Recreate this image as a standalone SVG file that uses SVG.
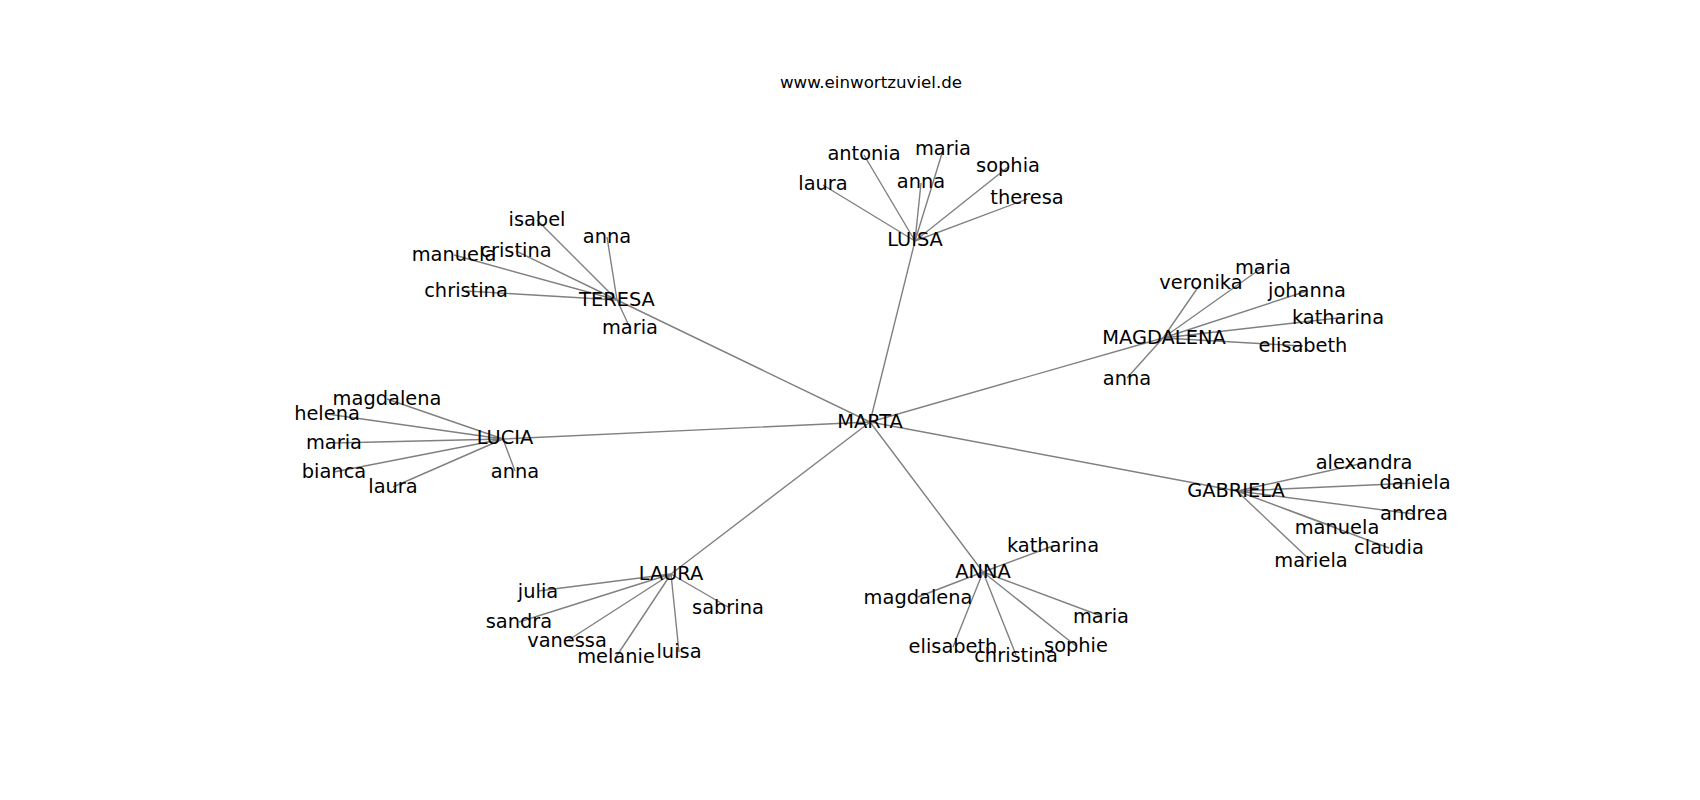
<svg xmlns="http://www.w3.org/2000/svg" width="1700" height="800" viewBox="0 0 1700 800">
<style>
.e{stroke:#808080;stroke-width:1.4;fill:none}
text{font-family:"DejaVu Sans","Liberation Sans",sans-serif;fill:#000;text-anchor:middle}
.n{font-size:19.4px}
.t{font-size:16.67px}
</style>
<rect width="1700" height="800" fill="#fff"/>
<text class="t" x="871" y="88">www.einwortzuviel.de</text>
<g id="connectors">
<path class="e" d="M870 422L915 241M870 422L617 300M870 422L1163 338M870 422L503 439M870 422L1237 491M870 422L671 574M870 422L983 572"/>
<path class="e" d="M915 241L823 185M915 241L864 155M915 241L943 150M915 241L921 183M915 241L1008 167M915 241L1027 199"/>
<path class="e" d="M617 300L537 220M617 300L607 237M617 300L516 251M617 300L454 255M617 300L466 291M617 300L630 328"/>
<path class="e" d="M1163 338L1201 283M1163 338L1263 267M1163 338L1307 291M1163 338L1338 318M1163 338L1303 346M1163 338L1127 378"/>
<path class="e" d="M503 439L387 399M503 439L327 414M503 439L334 443M503 439L334 472M503 439L393 487M503 439L515 471"/>
<path class="e" d="M1237 491L1364 463M1237 491L1415 483M1237 491L1414 514M1237 491L1337 528M1237 491L1389 548M1237 491L1311 561"/>
<path class="e" d="M671 574L538 591M671 574L519 622M671 574L567 641M671 574L616 657M671 574L679 652M671 574L728 607"/>
<path class="e" d="M983 572L1053 546M983 572L918 597M983 572L1101 616M983 572L953 647M983 572L1016 655M983 572L1076 646"/>
</g>
<g id="MARTA"><text class="n" x="870" y="428">MARTA</text></g>
<g id="LUISA"><text class="n" x="915" y="246">LUISA</text></g>
<g id="LUISA-laura"><text class="n" x="823" y="190">laura</text></g>
<g id="LUISA-antonia"><text class="n" x="864" y="160">antonia</text></g>
<g id="LUISA-maria"><text class="n" x="943" y="155">maria</text></g>
<g id="LUISA-anna"><text class="n" x="921" y="188">anna</text></g>
<g id="LUISA-sophia"><text class="n" x="1008" y="172">sophia</text></g>
<g id="LUISA-theresa"><text class="n" x="1027" y="204">theresa</text></g>
<g id="TERESA"><text class="n" x="617" y="306">TERESA</text></g>
<g id="TERESA-isabel"><text class="n" x="537" y="226">isabel</text></g>
<g id="TERESA-anna"><text class="n" x="607" y="243">anna</text></g>
<g id="TERESA-cristina"><text class="n" x="516" y="257">cristina</text></g>
<g id="TERESA-manuela"><text class="n" x="454" y="261">manuela</text></g>
<g id="TERESA-christina"><text class="n" x="466" y="297">christina</text></g>
<g id="TERESA-maria"><text class="n" x="630" y="334">maria</text></g>
<g id="MAGDALENA"><text class="n" x="1164" y="344">MAGDALENA</text></g>
<g id="MAGDALENA-veronika"><text class="n" x="1201" y="289">veronika</text></g>
<g id="MAGDALENA-maria"><text class="n" x="1263" y="274">maria</text></g>
<g id="MAGDALENA-johanna"><text class="n" x="1307" y="297">johanna</text></g>
<g id="MAGDALENA-katharina"><text class="n" x="1338" y="324">katharina</text></g>
<g id="MAGDALENA-elisabeth"><text class="n" x="1303" y="352">elisabeth</text></g>
<g id="MAGDALENA-anna"><text class="n" x="1127" y="385">anna</text></g>
<g id="LUCIA"><text class="n" x="505" y="444">LUCIA</text></g>
<g id="LUCIA-magdalena"><text class="n" x="387" y="405">magdalena</text></g>
<g id="LUCIA-helena"><text class="n" x="327" y="420">helena</text></g>
<g id="LUCIA-maria"><text class="n" x="334" y="449">maria</text></g>
<g id="LUCIA-bianca"><text class="n" x="334" y="478">bianca</text></g>
<g id="LUCIA-laura"><text class="n" x="393" y="493">laura</text></g>
<g id="LUCIA-anna"><text class="n" x="515" y="478">anna</text></g>
<g id="GABRIELA"><text class="n" x="1236" y="497">GABRIELA</text></g>
<g id="GABRIELA-alexandra"><text class="n" x="1364" y="469">alexandra</text></g>
<g id="GABRIELA-daniela"><text class="n" x="1415" y="489">daniela</text></g>
<g id="GABRIELA-andrea"><text class="n" x="1414" y="520">andrea</text></g>
<g id="GABRIELA-manuela"><text class="n" x="1337" y="534">manuela</text></g>
<g id="GABRIELA-claudia"><text class="n" x="1389" y="554">claudia</text></g>
<g id="GABRIELA-mariela"><text class="n" x="1311" y="567">mariela</text></g>
<g id="LAURA"><text class="n" x="671" y="580">LAURA</text></g>
<g id="LAURA-julia"><text class="n" x="538" y="598">julia</text></g>
<g id="LAURA-sandra"><text class="n" x="519" y="628">sandra</text></g>
<g id="LAURA-vanessa"><text class="n" x="567" y="647">vanessa</text></g>
<g id="LAURA-melanie"><text class="n" x="616" y="663">melanie</text></g>
<g id="LAURA-luisa"><text class="n" x="679" y="658">luisa</text></g>
<g id="LAURA-sabrina"><text class="n" x="728" y="614">sabrina</text></g>
<g id="ANNA"><text class="n" x="983" y="578">ANNA</text></g>
<g id="ANNA-katharina"><text class="n" x="1053" y="552">katharina</text></g>
<g id="ANNA-magdalena"><text class="n" x="918" y="604">magdalena</text></g>
<g id="ANNA-maria"><text class="n" x="1101" y="623">maria</text></g>
<g id="ANNA-elisabeth"><text class="n" x="953" y="653">elisabeth</text></g>
<g id="ANNA-christina"><text class="n" x="1016" y="662">christina</text></g>
<g id="ANNA-sophie"><text class="n" x="1076" y="652">sophie</text></g>
</svg>
